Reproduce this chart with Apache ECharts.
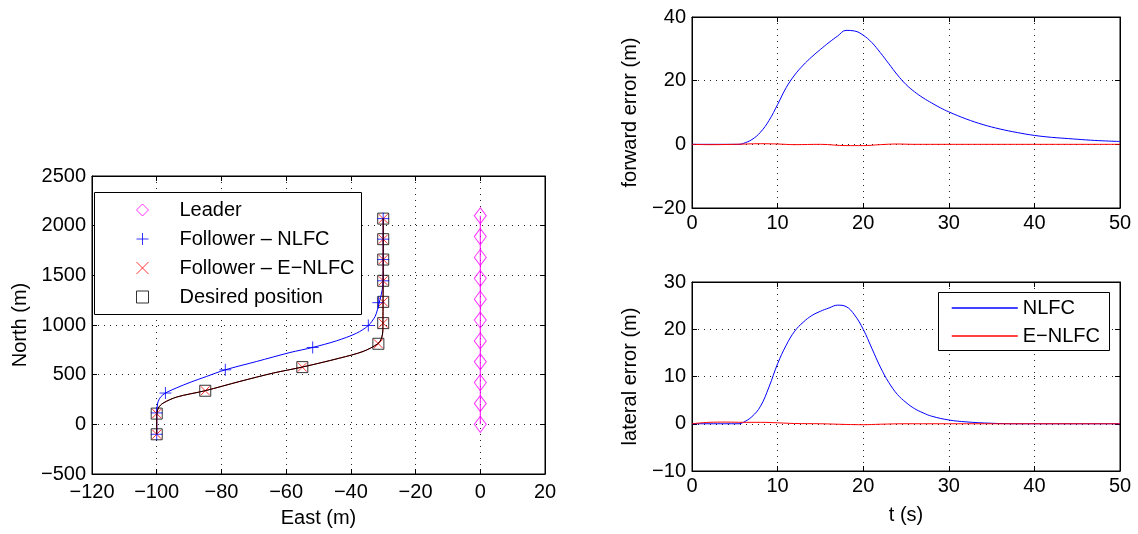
<!DOCTYPE html>
<html>
<head>
<meta charset="utf-8">
<script src="https://cdn.jsdelivr.net/npm/echarts@6/dist/echarts.min.js"></script>
<style>
html, body { margin: 0; padding: 0; background: #fff; }
#chart { width: 1138px; height: 534px; }
</style>
</head>
<body>
<div id="chart"></div>
<script>
// === DATA: trajectory (East / North, m) ===
const leaderX = [0, 0, 0, 0, 0, 0, 0, 0, 0, 0, 0];
const leaderY = [0, 210, 420, 630, 840, 1050, 1260, 1470, 1680, 1890, 2100];

const nlfcPathX = [-100, -100, -99.7, -98.8, -97.3, -93.8, -89.7, -84.6, -78.8, -69.1, -58.8, -51.8, -44.4, -38.2, -34.6, -32.5, -31.8, -31, -30.3, -30, -30];
const nlfcPathY = [-100, 114, 214, 275, 315, 368, 422, 482, 549, 633, 723, 774, 841, 918, 995, 1086, 1153, 1254, 1354, 1500, 2075];
const nlfcMarkX = [-100, -100, -97.3, -78.8, -51.8, -34.6, -31.5, -30, -30, -30, -30];
const nlfcMarkY = [-100, 115, 315, 549, 774, 995, 1225, 1445, 1659, 1864, 2071];

const desPathX = [-100, -100, -99.5, -98, -93.8, -85.1, -74.3, -64, -55.1, -43.4, -36.2, -31.7, -30.5, -30.1, -30];
const desPathY = [-100, 80, 164, 214, 275, 338, 432, 516, 576, 667, 734, 811, 868, 952, 2075];
const desMarkX = [-100, -100, -85, -55, -31.5, -30, -30, -30, -30, -30, -30];
const desMarkY = [-100, 108, 338, 576, 811, 1019, 1233, 1445, 1659, 1864, 2071];

// === DATA: forward error (m) ===
const tFwd = [0, 5, 5.5, 6, 7, 8, 9, 10, 11, 12, 13, 14, 15, 16, 17, 18, 19, 20, 21, 22, 23, 24, 25, 26, 27, 28, 29, 30, 32, 34, 36, 38, 40, 42, 44, 46, 48, 50];
const fwdNlfc = [0, 0, 0, 0.3, 1.5, 3.8, 7.5, 12.5, 17.8, 21.8, 24.9, 27.5, 29.8, 32, 34, 35.8, 35.6, 34.3, 32, 28.8, 25.3, 21.8, 18.8, 16.5, 14.6, 13, 11.5, 10.2, 8, 6.2, 4.8, 3.7, 2.8, 2.2, 1.8, 1.4, 1.1, 0.9];
const tFwdE = [0, 2, 5, 8, 10, 12, 15, 18, 20, 22, 24, 26, 50];
const fwdEnlfc = [0, -0.1, 0, 0.2, 0.1, -0.1, 0, -0.4, -0.4, -0.1, 0.1, 0, 0];

// === DATA: lateral error (m) ===
const tLat = [0, 5, 5.5, 6, 7, 8, 9, 10, 11, 12, 13, 14, 15, 16, 17, 18, 19, 20, 21, 22, 23, 24, 25, 26, 27, 28, 30, 32, 35, 38, 42, 50];
const latNlfc = [0, 0, 0, 0.3, 1.5, 3.7, 7.8, 12.7, 16.6, 19.6, 21.5, 22.9, 23.8, 24.5, 25.1, 24.8, 23, 20, 16, 12, 8.7, 6.2, 4.5, 3.2, 2.3, 1.6, 0.8, 0.4, 0.1, 0, 0, 0];
const tLatE = [0, 2, 4, 6, 8, 10, 12, 15, 18, 20, 22, 25, 50];
const latEnlfc = [0, 0.3, 0.35, 0.3, 0.3, 0.2, 0.05, 0, -0.15, -0.2, -0.1, 0, 0];

// === HELPERS ===
const font = "'Liberation Sans', Arial, Helvetica, sans-serif";
const fmt = v => String(v).replace('-', '\u2212');
const zip = (a, b) => a.map((v, i) => [v, b[i]]);

const plusPath = 'path://M0,5L10,5M5,0L5,10';
const crossPath = 'path://M0,0L10,10M10,0L0,10';

function mainAxis(gridIndex, min, max, interval, pos, name, nameGap, margin) {
    return {
        type: 'value', gridIndex, min, max, interval, position: pos,
        name, nameLocation: 'middle', nameGap,
        nameTextStyle: { fontFamily: font, fontSize: 20, color: '#000' },
        axisLine: { show: true, onZero: false, lineStyle: { color: '#000', width: 1 } },
        axisTick: { show: true, inside: true, length: 5, lineStyle: { color: '#000' } },
        axisLabel: { fontFamily: font, fontSize: 20, color: '#000', margin, formatter: fmt },
        splitLine: { show: true, lineStyle: { color: '#222', type: [1, 5], width: 1 } }
    };
}

function mirrorAxis(gridIndex, min, max, interval, pos) {
    return {
        type: 'value', gridIndex, min, max, interval, position: pos,
        axisLine: { show: true, onZero: false, lineStyle: { color: '#000', width: 1 } },
        axisTick: { show: true, inside: true, length: 5, lineStyle: { color: '#000' } },
        axisLabel: { show: false },
        splitLine: { show: false }
    };
}

function pathLine(name, data, color, xi, extra) {
    return Object.assign({
        name, type: 'line', data, xAxisIndex: xi, yAxisIndex: xi,
        symbol: 'none', smooth: 0.3, animation: false,
        lineStyle: { color, width: 1 }, itemStyle: { color }
    }, extra || {});
}

function markers(name, data, symbol, size, color) {
    return {
        name, type: 'scatter', data, xAxisIndex: 0, yAxisIndex: 0,
        symbol, symbolSize: size, animation: false,
        itemStyle: { color: 'none', borderColor: color, borderWidth: 1 }
    };
}

// === CHART ===
const chart = echarts.init(document.getElementById('chart'), null, { renderer: 'canvas' });

const timeOpts = { smooth: 0.4 };

const option = {
    backgroundColor: '#fff',
    animation: false,
    grid: [
        { left: 92, top: 176, width: 453, height: 298, show: true, borderColor: '#000', borderWidth: 1, outerBoundsMode: 'none' },
        { left: 692, top: 17, width: 428, height: 191, show: true, borderColor: '#000', borderWidth: 1, outerBoundsMode: 'none' },
        { left: 692, top: 282, width: 428, height: 189, show: true, borderColor: '#000', borderWidth: 1, outerBoundsMode: 'none' }
    ],
    xAxis: [
        mainAxis(0, -120, 20, 20, 'bottom', 'East (m)', 34, 8),
        mainAxis(1, 0, 50, 10, 'bottom', '', 30, 5),
        mainAxis(2, 0, 50, 10, 'bottom', 't (s)', 34, 5),
        mirrorAxis(0, -120, 20, 20, 'top'),
        mirrorAxis(1, 0, 50, 10, 'top'),
        mirrorAxis(2, 0, 50, 10, 'top')
    ],
    yAxis: [
        mainAxis(0, -500, 2500, 500, 'left', 'North (m)', 62, 6),
        mainAxis(1, -20, 40, 20, 'left', 'forward error (m)', 52, 6),
        mainAxis(2, -10, 30, 10, 'left', 'lateral error (m)', 52, 6),
        mirrorAxis(0, -500, 2500, 500, 'right'),
        mirrorAxis(1, -20, 40, 20, 'right'),
        mirrorAxis(2, -10, 30, 10, 'right')
    ],
    graphic: [
        { type: 'rect', left: 94, top: 192, z: 10, shape: { width: 267, height: 122 }, style: { fill: '#fff', stroke: '#000', lineWidth: 1 } },
        { type: 'rect', left: 938, top: 292, z: 10, shape: { width: 171, height: 58 }, style: { fill: '#fff', stroke: '#000', lineWidth: 1 } }
    ],
    legend: [
        {
            data: ['Leader', 'Follower \u2013 NLFC', 'Follower \u2013 E\u2212NLFC', 'Desired position'],
            orient: 'vertical', left: 134, top: 200, z: 20,
            itemWidth: 12, itemHeight: 12, itemGap: 9, padding: 0,
            selectedMode: false,
            itemStyle: { borderWidth: 1 },
            textStyle: { fontFamily: font, fontSize: 20, color: '#000', padding: [0, 0, 0, 26] }
        },
        {
            data: ['NLFC', 'E\u2212NLFC'],
            orient: 'vertical', left: 951, top: 298, z: 20,
            itemWidth: 66, itemHeight: 10, itemGap: 8, padding: 0,
            selectedMode: false,
            itemStyle: { opacity: 0 },
            lineStyle: { width: 1.5 },
            textStyle: { fontFamily: font, fontSize: 20, color: '#000' }
        }
    ],
    series: [
        // trajectory plot
        pathLine('leaderPath', zip(leaderX, leaderY), '#ff00ff', 0, { smooth: false }),
        markers('Leader', zip(leaderX, leaderY), 'diamond', [12, 16], '#ff00ff'),
        pathLine('nlfcPath', zip(nlfcPathX, nlfcPathY), '#0000ff', 0),
        pathLine('enlfcPath', zip(desPathX, desPathY), '#ff0000', 0),
        pathLine('desiredPath', zip(desPathX, desPathY), '#000000', 0),
        markers('Desired position', zip(desMarkX, desMarkY), 'rect', 11, '#000000'),
        markers('Follower \u2013 E\u2212NLFC', zip(desMarkX, desMarkY), crossPath, 9, '#ff0000'),
        markers('Follower \u2013 NLFC', zip(nlfcMarkX, nlfcMarkY), plusPath, 12, '#0000ff'),
        // forward error
        pathLine('NLFC', zip(tFwd, fwdNlfc), '#0000ff', 1, timeOpts),
        pathLine('E\u2212NLFC', zip(tFwdE, fwdEnlfc), '#ff0000', 1, timeOpts),
        // lateral error
        pathLine('NLFC', zip(tLat, latNlfc), '#0000ff', 2, timeOpts),
        pathLine('E\u2212NLFC', zip(tLatE, latEnlfc), '#ff0000', 2, timeOpts)
    ]
};

chart.setOption(option);
</script>
</body>
</html>
